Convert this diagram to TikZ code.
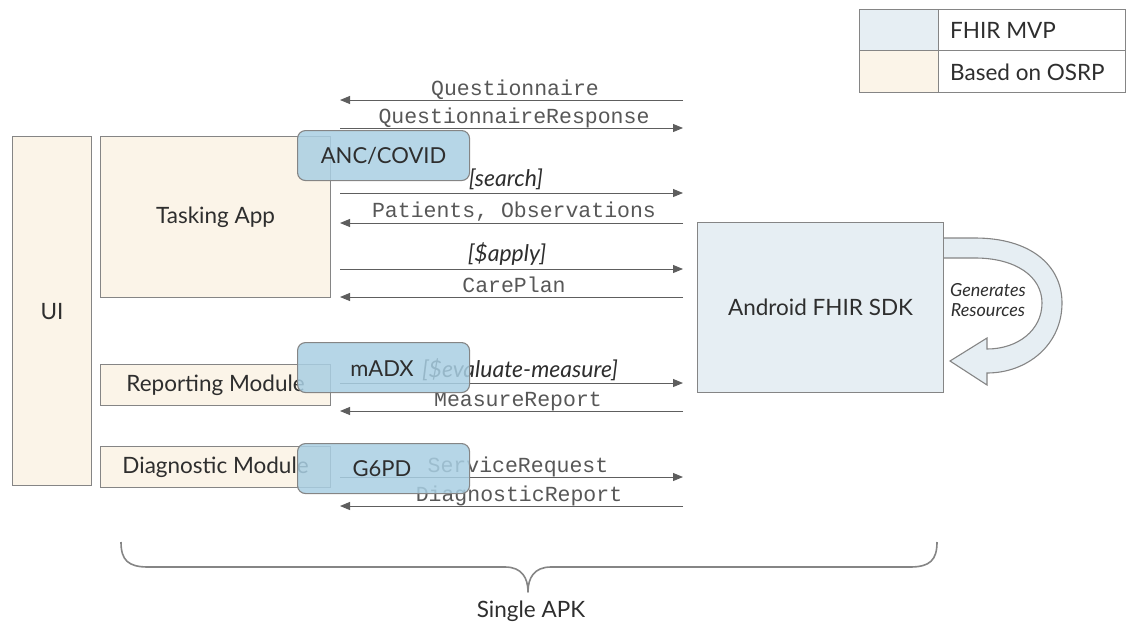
\documentclass[tikz,border=0pt]{standalone}
\usepackage{fontspec}
\setmainfont{Lato}
\setmonofont{Liberation Mono}
\usetikzlibrary{arrows.meta}
\definecolor{beige}{HTML}{FBF4E8}
\definecolor{sdkblue}{HTML}{E6EEF3}
\definecolor{modblue}{HTML}{A9CFE3}
\definecolor{edge}{HTML}{858585}
\definecolor{ink}{HTML}{2E2E2E}
\definecolor{arr}{HTML}{5E5E5E}
\definecolor{mono}{HTML}{575757}
\begin{document}
\begin{tikzpicture}[x=1pt,y=-1pt,
  sans/.style={font=\fontsize{22.5}{26}\selectfont, text=ink},
  box/.style={draw=edge, line width=1.1pt, fill=beige, inner sep=0pt, anchor=north west, sans},
  modbox/.style={draw=edge, line width=1.1pt, fill=modblue, fill opacity=0.85, text opacity=1,
    rounded corners=8pt, inner sep=0pt, anchor=north west, minimum width=172pt, minimum height=50pt},
  modtext/.style={font=\fontsize{22}{26}\selectfont, text=ink},
  mlab/.style={font=\ttfamily\fontsize{21.5}{24}\selectfont, text=mono, anchor=base, inner sep=0pt},
  ilab/.style={font=\itshape\fontsize{23}{26}\selectfont, text=ink, anchor=base, inner sep=0pt},
  flow/.style={draw=arr, line width=1pt, -{Triangle[length=10pt,width=8pt]}},
]
\useasboundingbox (0,0) rectangle (1132,632);

% legend
\node[draw=edge, line width=1.1pt, fill=sdkblue, anchor=north west, minimum width=79pt, minimum height=41pt, inner sep=0pt] (lgA) at (859,9) {};
\node[draw=edge, line width=1.1pt, fill=white, anchor=north west, minimum width=187pt, minimum height=41pt, inner sep=0pt] (lgB) at (938,9) {};
\node[draw=edge, line width=1.1pt, fill=beige, anchor=north west, minimum width=79pt, minimum height=42pt, inner sep=0pt] (lgC) at (859,50) {};
\node[draw=edge, line width=1.1pt, fill=white, anchor=north west, minimum width=187pt, minimum height=42pt, inner sep=0pt] (lgD) at (938,50) {};
\node[sans, anchor=west, inner sep=0pt] (lgT1) at (950,30) {FHIR MVP};
\node[sans, anchor=west, inner sep=0pt] (lgT2) at (950,72) {Based on OSRP};

% left boxes
\node[box, minimum width=79pt, minimum height=349pt] (ui) at (12,136) {UI};
\node[box, minimum width=230pt, minimum height=161pt] (task) at (100,136) {Tasking App};
\node[box, minimum width=230pt, minimum height=41pt] (rep) at (100,364) {Reporting Module};
\node[box, minimum width=230pt, minimum height=41pt] (diag) at (100,446) {Diagnostic Module};

% curved arrow
\draw[draw=edge, line width=1.1pt, fill=sdkblue]
  (943,238) -- (975,238) .. controls (1030,238) and (1062,265) .. (1062,303)
  .. controls (1062,345) and (1027,373) .. (987,373) -- (987,385) -- (950,361) -- (987,338) -- (987,349)
  .. controls (1018,349) and (1042,330) .. (1042,303)
  .. controls (1042,276) and (1015,258) .. (975,258) -- (943,258) -- cycle;
\node[font=\itshape\fontsize{18}{20}\selectfont, text=ink, align=center, inner sep=0pt] (gen) at (988,300) {Generates\\Resources};

% SDK box
\node[box, fill=sdkblue, minimum width=246pt, minimum height=170pt] (sdk) at (697,222) {Android FHIR SDK};

% arrow coordinates
\coordinate (a1l) at (340,100); \coordinate (a1r) at (683,100);
\coordinate (a2l) at (340,128); \coordinate (a2r) at (683,128);
\coordinate (a3l) at (340,193); \coordinate (a3r) at (683,193);
\coordinate (a4l) at (340,223); \coordinate (a4r) at (683,223);
\coordinate (a5l) at (340,269); \coordinate (a5r) at (683,269);
\coordinate (a6l) at (340,297); \coordinate (a6r) at (683,297);
\coordinate (a7l) at (340,383); \coordinate (a7r) at (683,383);
\coordinate (a8l) at (340,411); \coordinate (a8r) at (683,411);
\coordinate (a9l) at (340,477); \coordinate (a9r) at (683,477);
\coordinate (a10l) at (340,506); \coordinate (a10r) at (683,506);

\draw[flow] (a1r) -- (a1l);
\draw[flow] (a2l) -- (a2r);
\draw[flow] (a3l) -- (a3r);
\draw[flow] (a4r) -- (a4l);
\draw[flow] (a5l) -- (a5r);
\draw[flow] (a6r) -- (a6l);
\draw[flow] (a7l) -- (a7r);
\draw[flow] (a8r) -- (a8l);
\draw[flow] (a9l) -- (a9r);
\draw[flow] (a10r) -- (a10l);

% labels
\node[mlab] (l1) at (515,95) {Questionnaire};
\node[mlab] (l2) at (514,123) {QuestionnaireResponse};
\node[ilab] (l3) at (506,186) {[search]};
\node[mlab] (l4) at (514,217) {Patients, Observations};
\node[ilab] (l5) at (507,261) {[\$apply]};
\node[mlab] (l6) at (514,292) {CarePlan};
\node[ilab] (l7) at (520,377) {[\$evaluate-measure]};
\node[mlab] (l8) at (518,406) {MeasureReport};
\node[mlab] (l9) at (518,472) {ServiceRequest};
\node[mlab] (l10) at (519,501) {DiagnosticReport};

% module boxes
\node[modbox] (anc) at (297,130) {};
\node[modtext] (ancT) at (anc.center) {ANC/COVID};
\node[modbox] (madx) at (297,342) {};
\node[modtext] (madxT) at (382,369) {mADX};
\node[modbox] (g6pd) at (297,443) {};
\node[modtext] (g6pdT) at (382,469) {G6PD};

% brace
\draw[draw=edge, line width=1.6pt, line join=round]
  (121,542) .. controls (121,560) and (128,567) .. (148,567) -- (505,567)
  .. controls (522,567) and (528,578) .. (528,592)
  .. controls (528,578) and (534,567) .. (551,567) -- (910,567)
  .. controls (930,567) and (937,560) .. (937,542);
\node[sans] (apk) at (531,611) {Single APK};
\end{tikzpicture}
\end{document}
